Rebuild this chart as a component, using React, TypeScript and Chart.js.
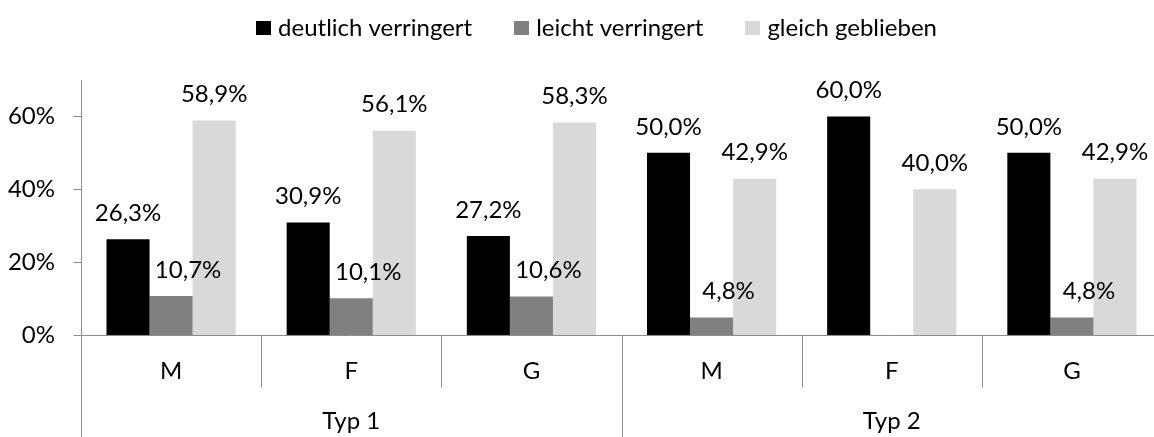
import React, { useEffect, useRef } from 'react';
import { Chart, registerables } from 'chart.js';

Chart.register(...registerables);

// ---- data ----
const categories = ['M', 'F', 'G', 'M', 'F', 'G'];
const groups = ['Typ 1', 'Typ 2'];
const groupSizes = [3, 3];
const seriesNames = ['deutlich verringert', 'leicht verringert', 'gleich geblieben'];
const deutlichVerringert = [26.3, 30.9, 27.2, 50.0, 60.0, 50.0];
const leichtVerringert: (number | null)[] = [10.7, 10.1, 10.6, 4.8, null, 4.8];
const gleichGeblieben = [58.9, 56.1, 58.3, 42.9, 40.0, 42.9];
const yTicks = [0, 20, 40, 60];

// ---- styles ----
const seriesColors = ['#000000', '#808080', '#d9d9d9'];
const labelShiftX = [0, 17, 0];
const FONT_FAMILY = 'Lato';
const FONT_SIZE = 24;
const FONT = `${FONT_SIZE}px ${FONT_FAMILY}`;
const AXIS_COLOR = '#8c8c8c';

const fmt = (v: number) => v.toFixed(1).replace('.', ',') + '%';

const dataLabelsPlugin = {
  id: 'dataLabels',
  afterDatasetsDraw(chart: any) {
    const ctx = chart.ctx;
    ctx.save();
    ctx.font = FONT;
    ctx.fillStyle = '#000';
    ctx.textAlign = 'center';
    ctx.textBaseline = 'middle';
    chart.data.datasets.forEach((ds: any, i: number) => {
      const meta = chart.getDatasetMeta(i);
      meta.data.forEach((el: any, j: number) => {
        const v = ds.data[j];
        if (v == null) return;
        ctx.fillText(fmt(v), el.x + labelShiftX[i], el.y - 26);
      });
    });
    ctx.restore();
  },
};

const decorPlugin = {
  id: 'decor',
  afterDraw(chart: any) {
    const ctx = chart.ctx;
    const a = chart.chartArea;
    const xs = chart.scales.x;
    const ys = chart.scales.y;
    const H = chart.height;
    ctx.save();
    ctx.strokeStyle = AXIS_COLOR;
    ctx.lineWidth = 1;
    const lx = Math.round(a.left) + 0.5;
    const by = Math.round(a.bottom) + 0.5;
    ctx.beginPath();
    ctx.moveTo(lx, Math.round(a.top));
    ctx.lineTo(lx, H);
    for (const v of yTicks) {
      const py = Math.round(ys.getPixelForValue(v)) + 0.5;
      ctx.moveTo(lx - 8, py);
      ctx.lineTo(lx, py);
    }
    ctx.moveTo(lx, by);
    ctx.lineTo(a.right, by);

    const n = categories.length;
    const px = categories.map((_, i) => xs.getPixelForValue(i));
    const bounds: number[] = [a.left];
    for (let i = 1; i < n; i++) bounds.push((px[i - 1] + px[i]) / 2);
    bounds.push(a.right);
    const groupEdges = new Set<number>([0]);
    let acc = 0;
    groupSizes.forEach((s) => {
      acc += s;
      groupEdges.add(acc);
    });
    for (let i = 1; i <= n; i++) {
      const bx = Math.round(bounds[i]) + 0.5;
      ctx.moveTo(bx, by);
      ctx.lineTo(bx, groupEdges.has(i) ? H : by + 52);
    }
    ctx.stroke();

    ctx.fillStyle = '#000';
    ctx.font = FONT;
    ctx.textAlign = 'center';
    ctx.textBaseline = 'middle';
    categories.forEach((c, i) => ctx.fillText(c, px[i], a.bottom + 36));
    let start = 0;
    groups.forEach((g, k) => {
      const end = start + groupSizes[k];
      ctx.fillText(g, (bounds[start] + bounds[end]) / 2, a.bottom + 86);
      start = end;
    });

    // legend
    ctx.textAlign = 'left';
    const box = 15;
    const gapBoxText = 7;
    const gapItems = 42;
    const widths = chart.data.datasets.map((d: any) => ctx.measureText(d.label).width);
    const total =
      widths.reduce((s: number, w: number) => s + box + gapBoxText + w, 0) +
      gapItems * (widths.length - 1);
    let x = 596.5 - total / 2;
    chart.data.datasets.forEach((d: any, i: number) => {
      ctx.fillStyle = d.backgroundColor;
      ctx.fillRect(Math.round(x), 21, box, 14);
      ctx.fillStyle = '#000';
      ctx.fillText(d.label, x + box + gapBoxText, 28);
      x += box + gapBoxText + widths[i] + gapItems;
    });
    ctx.restore();
  },
};

export default function App() {
  const ref = useRef<HTMLCanvasElement | null>(null);
  useEffect(() => {
    document.body.style.margin = '0';
    const canvas = ref.current;
    if (!canvas) return;
    const seriesData = [deutlichVerringert, leichtVerringert, gleichGeblieben];
    const chart = new Chart(canvas, {
      type: 'bar',
      data: {
        labels: categories,
        datasets: seriesNames.map((name, i) => ({
          label: name,
          data: seriesData[i] as any,
          backgroundColor: seriesColors[i],
          categoryPercentage: 0.717,
          barPercentage: 1,
        })),
      },
      options: {
        responsive: false,
        animation: false,
        layout: { padding: { top: 80, bottom: 102, right: 18, left: 0 } },
        plugins: { legend: { display: false }, tooltip: { enabled: false } },
        scales: {
          x: { display: false },
          y: {
            min: 0,
            max: 70,
            afterBuildTicks: (s: any) => {
              s.ticks = yTicks.map((v) => ({ value: v }));
            },
            afterFit: (s: any) => {
              s.width = 81;
            },
            grid: { display: false, drawTicks: false },
            border: { display: false },
            ticks: {
              padding: 26,
              color: '#000',
              font: { family: FONT_FAMILY, size: FONT_SIZE },
              callback: (v: any) => v + '%',
            },
          },
        },
      },
      plugins: [dataLabelsPlugin, decorPlugin],
    });
    return () => chart.destroy();
  }, []);
  return (
    <div style={{ width: '1154px', height: '437px', overflow: 'hidden' }}>
      <canvas ref={ref} width={1180} height={437} style={{ display: 'block' }} />
    </div>
  );
}
